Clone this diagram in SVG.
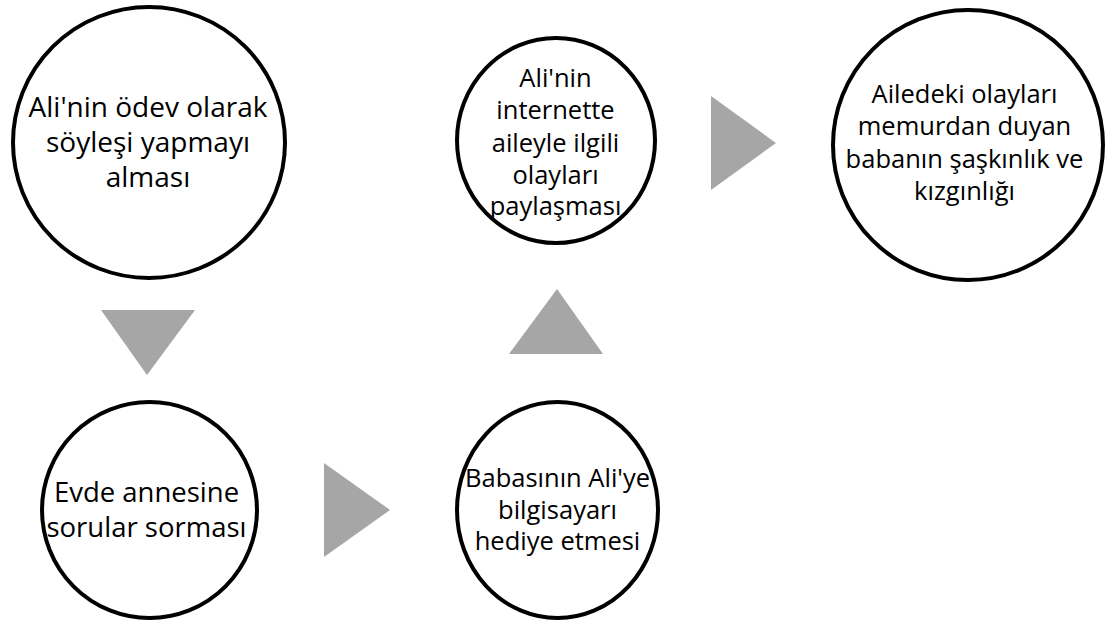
<svg xmlns="http://www.w3.org/2000/svg" width="1109" height="624" viewBox="0 0 1109 624">
<style>
.node{fill:#FFFFFF;stroke:#000000;stroke-width:4}
.lbl{font-family:"Open Sans","Noto Sans","DejaVu Sans",sans-serif;fill:#000000;text-anchor:middle}
.arrow{fill:#A6A6A6;stroke:none}
</style>
<rect x="0" y="0" width="1109" height="624" fill="#FFFFFF"/>
<g id="connectors">
<polygon class="arrow" points="101,310 195,310 147,375"/>
<polygon class="arrow" points="324,463 324,557 390,510"/>
<polygon class="arrow" points="509,354 603,354 557,289"/>
<polygon class="arrow" points="711,96 711,190 776,143"/>
</g>
<g id="node1">
<ellipse class="node" cx="149" cy="142.5" rx="136" ry="135.5"/>
<text class="lbl" font-size="28"><tspan x="148" y="117">Ali'nin ödev olarak</tspan><tspan x="148" y="152">söyleşi yapmayı</tspan><tspan x="148" y="187">alması</tspan></text>
</g>
<g id="node2">
<ellipse class="node" cx="149.5" cy="510" rx="107.5" ry="108"/>
<text class="lbl" font-size="27.5"><tspan x="146.5" y="502">Evde annesine</tspan><tspan x="146.5" y="537">sorular sorması</tspan></text>
</g>
<g id="node3">
<ellipse class="node" cx="557.5" cy="510" rx="100.5" ry="108"/>
<text class="lbl" font-size="25.5"><tspan x="557.5" y="487">Babasının Ali'ye</tspan><tspan x="557.5" y="518.5">bilgisayarı</tspan><tspan x="557.5" y="550">hediye etmesi</tspan></text>
</g>
<g id="node4">
<ellipse class="node" cx="556" cy="140.5" rx="99" ry="102.5"/>
<text class="lbl" font-size="25.5"><tspan x="555.5" y="87">Ali'nin</tspan><tspan x="555.5" y="119">internette</tspan><tspan x="555.5" y="152">aileyle ilgili</tspan><tspan x="555.5" y="184">olayları</tspan><tspan x="555.5" y="215">paylaşması</tspan></text>
</g>
<g id="node5">
<ellipse class="node" cx="968" cy="145" rx="135" ry="135"/>
<text class="lbl" font-size="25.5"><tspan x="964.5" y="103">Ailedeki olayları</tspan><tspan x="964.5" y="135">memurdan duyan</tspan><tspan x="964.5" y="168">babanın şaşkınlık ve</tspan><tspan x="964.5" y="200">kızgınlığı</tspan></text>
</g>
</svg>
